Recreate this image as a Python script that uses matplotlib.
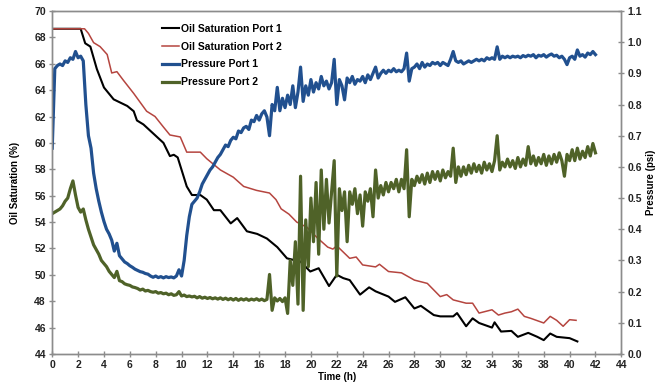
import numpy as np
import matplotlib
matplotlib.use("Agg")
import matplotlib.pyplot as plt
from matplotlib.ticker import FormatStrFormatter

plt.rcParams['font.family'] = ['Liberation Sans', 'DejaVu Sans']
plt.rcParams['font.weight'] = 'bold'

# oil saturation
t_os1 = [0, 2.2, 2.55, 2.95, 3.45, 4.0, 4.75, 5.8, 6.3, 6.55, 7.05, 8.6, 9.1, 9.4, 9.7,
         10.4, 10.8, 11.45, 11.95, 12.5, 13.0, 13.8, 14.3, 15.05, 15.85, 16.6, 17.4,
         18.15, 19.2, 19.95, 20.6, 21.4, 22.0, 22.5, 23.0, 23.8, 24.5, 25.0, 26.0, 26.5,
         27.3, 28.0, 28.5, 29.5, 30.0, 31.0, 31.3, 32.0, 32.5, 33.0, 34.0, 34.2, 34.7,
         35.5, 36.0, 36.8, 37.5, 38.0, 38.5, 39.0, 40.0, 40.6]
os1 = [68.65, 68.65, 67.55, 67.3, 65.6, 64.2, 63.3, 62.8, 62.4, 61.7, 61.4, 60.0, 59.0,
       59.1, 58.9, 56.7, 56.05, 56.05, 55.7, 54.9, 54.9, 53.9, 54.3, 53.3, 53.1, 52.75,
       52.1, 51.25, 51.0, 50.25, 50.5, 49.15, 50.0, 49.75, 49.6, 48.5, 49.05, 48.75,
       48.35, 47.95, 48.3, 47.45, 47.65, 46.95, 46.85, 46.85, 47.1, 46.1, 46.7, 46.35,
       46.0, 46.4, 45.7, 45.75, 45.3, 45.6, 45.3, 45.05, 45.55, 45.3, 45.2, 44.95]

t_os2 = [0, 2.5, 2.8, 3.2, 3.7, 4.25, 4.6, 5.0, 5.5, 6.3, 7.3, 7.95, 8.6, 9.1, 9.9, 10.4,
         11.45, 11.95, 13.0, 14.0, 14.8, 15.8, 16.8, 17.3, 17.7, 18.3, 18.9, 19.7, 20.5,
         21.3, 21.7, 22.0, 23.0, 23.5, 24.0, 25.0, 25.3, 26.0, 27.0, 28.0, 29.0, 30.0,
         30.5, 31.0, 32.0, 32.5, 33.0, 34.0, 34.5, 35.0, 35.5, 36.0, 36.5, 37.0, 38.0,
         38.5, 39.0, 39.5, 40.0, 40.5]
os2 = [68.65, 68.65, 68.3, 67.6, 67.3, 66.7, 65.3, 65.4, 64.75, 63.75, 62.4, 62.0, 61.2,
       60.6, 60.45, 59.3, 59.3, 58.8, 57.95, 57.4, 56.7, 56.4, 56.2, 55.7, 55.0, 54.6,
       54.0, 53.6, 52.8, 52.1, 51.95, 52.2, 51.25, 51.35, 50.75, 50.6, 50.8, 50.25,
       50.15, 49.6, 49.35, 48.35, 48.5, 48.1, 47.85, 47.85, 47.1, 47.35, 46.95, 47.1,
       47.2, 47.4, 46.85, 46.7, 46.35, 46.85, 46.55, 46.1, 46.6, 46.55]

# pressures sampled every 0.2 h from 0 to 42 h
t_p = np.round(np.arange(0, 42.0001, 0.2), 1)
p1 = [0.66, 0.915, 0.925, 0.93, 0.925, 0.94, 0.935, 0.95, 0.945, 0.97,
      0.95, 0.955, 0.94, 0.80, 0.70, 0.66, 0.58, 0.53, 0.49, 0.455,
      0.425, 0.40, 0.385, 0.365, 0.33, 0.355, 0.315, 0.305, 0.295, 0.29,
      0.283, 0.278, 0.272, 0.268, 0.264, 0.262, 0.258, 0.256, 0.25, 0.246,
      0.25, 0.245, 0.248, 0.244, 0.248, 0.245, 0.247, 0.244, 0.25, 0.27,
      0.25, 0.30, 0.38, 0.44, 0.48, 0.49, 0.50, 0.52, 0.545, 0.56,
      0.575, 0.59, 0.60, 0.615, 0.63, 0.64, 0.655, 0.67, 0.665, 0.685,
      0.695, 0.69, 0.715, 0.71, 0.725, 0.73, 0.72, 0.75, 0.745, 0.765,
      0.75, 0.77, 0.78, 0.76, 0.70, 0.80, 0.78, 0.855, 0.78, 0.82,
      0.79, 0.83, 0.80, 0.86, 0.79, 0.84, 0.92, 0.81, 0.86, 0.83,
      0.88, 0.84, 0.87, 0.85, 0.89, 0.86, 0.875, 0.85, 0.87, 0.945,
      0.80, 0.88, 0.86, 0.815, 0.885, 0.87, 0.89, 0.865, 0.88, 0.875,
      0.89, 0.87, 0.895, 0.88, 0.90, 0.92, 0.885, 0.90, 0.91, 0.90,
      0.91, 0.905, 0.915, 0.905, 0.91, 0.905, 0.915, 0.965, 0.875, 0.915,
      0.92, 0.93, 0.915, 0.935, 0.92, 0.93, 0.925, 0.935, 0.93, 0.935,
      0.925, 0.935, 0.93, 0.925, 0.945, 0.97, 0.94, 0.935, 0.94, 0.93,
      0.935, 0.94, 0.935, 0.94, 0.945, 0.94, 0.945, 0.94, 0.95, 0.945,
      0.95, 0.945, 0.985, 0.945, 0.955, 0.95, 0.955, 0.95, 0.955, 0.952,
      0.955, 0.95, 0.957, 0.953, 0.958, 0.955, 0.96, 0.95, 0.958, 0.955,
      0.96, 0.952, 0.958, 0.962, 0.955, 0.958, 0.95, 0.955, 0.945, 0.928,
      0.95, 0.955, 0.945, 0.975, 0.955, 0.96, 0.952, 0.965, 0.96, 0.97,
      0.96]
p2 = [0.45, 0.455, 0.46, 0.465, 0.475, 0.49, 0.50, 0.53, 0.555, 0.51,
      0.47, 0.455, 0.465, 0.43, 0.40, 0.375, 0.35, 0.335, 0.32, 0.30,
      0.29, 0.28, 0.265, 0.255, 0.245, 0.265, 0.235, 0.232, 0.225, 0.222,
      0.22, 0.215, 0.213, 0.21, 0.205, 0.208, 0.202, 0.204, 0.20, 0.198,
      0.20, 0.195, 0.197, 0.193, 0.195, 0.19, 0.193, 0.188, 0.19, 0.20,
      0.186, 0.189, 0.184, 0.186, 0.183, 0.185, 0.18, 0.184, 0.179, 0.182,
      0.178, 0.181, 0.177, 0.18, 0.176, 0.18, 0.175, 0.179, 0.174, 0.178,
      0.173, 0.178, 0.172, 0.177, 0.173, 0.177, 0.172, 0.176, 0.173, 0.177,
      0.172, 0.176, 0.171, 0.175, 0.255, 0.14, 0.18, 0.17, 0.178, 0.168,
      0.18, 0.13, 0.30, 0.22, 0.36, 0.16, 0.57, 0.14, 0.43, 0.28,
      0.50, 0.36, 0.55, 0.32, 0.59, 0.40, 0.56, 0.42, 0.52, 0.62,
      0.25, 0.53, 0.46, 0.52, 0.36, 0.52, 0.48, 0.53, 0.45, 0.51,
      0.41, 0.52, 0.49, 0.53, 0.44, 0.59, 0.50, 0.54, 0.51, 0.55,
      0.52, 0.55, 0.53, 0.56, 0.52, 0.56, 0.53, 0.655, 0.44, 0.56,
      0.54, 0.57, 0.55, 0.575, 0.545, 0.58, 0.55, 0.585, 0.56, 0.585,
      0.555, 0.59, 0.565, 0.585, 0.57, 0.66, 0.55, 0.60, 0.57, 0.60,
      0.575, 0.605, 0.58, 0.61, 0.585, 0.605, 0.58, 0.615, 0.59, 0.61,
      0.585, 0.62, 0.70, 0.59, 0.615, 0.60, 0.625, 0.60, 0.62, 0.595,
      0.63, 0.60, 0.625, 0.605, 0.665, 0.61, 0.635, 0.605, 0.63, 0.61,
      0.64, 0.605, 0.635, 0.61, 0.64, 0.615, 0.645, 0.62, 0.57, 0.64,
      0.62, 0.655, 0.62, 0.66, 0.625, 0.65, 0.63, 0.665, 0.635, 0.675,
      0.645]

fig = plt.figure(figsize=(6.61, 3.92), dpi=100)
ax = fig.add_axes([0.079, 0.097, 0.861, 0.875])
ax2 = ax.twinx()

l1, = ax.plot(t_os1, os1, color='black', lw=1.5, solid_joinstyle='round',
              label='Oil Saturation Port 1')
l2, = ax.plot(t_os2, os2, color='#b5453f', lw=1.1, solid_joinstyle='round',
              label='Oil Saturation Port 2')
l3, = ax2.plot(t_p, p1, color='#21508f', lw=2.3, solid_joinstyle='round',
               label='Pressure Port 1')
l4, = ax2.plot(t_p, p2, color='#4f6228', lw=2.3, solid_joinstyle='round',
               label='Pressure Port 2')

ax.set_xlim(0, 44)
ax.set_ylim(44, 70)
ax.set_xticks(range(0, 45, 2))
ax.set_yticks(range(44, 71, 2))
ax2.set_ylim(0, 1.1)
ax2.set_yticks(np.arange(0, 1.101, 0.1))
ax2.yaxis.set_major_formatter(FormatStrFormatter('%.1f'))

for a in (ax, ax2):
    for s in a.spines.values():
        s.set_color('#8c8c8c')
        s.set_linewidth(1.0)
    a.tick_params(direction='inout', length=5, width=1, color='#8c8c8c',
                  labelsize=7.5, labelcolor='#222222', pad=2)

ax.set_xlabel('Time (h)', fontsize=7, fontweight='bold', labelpad=1)
ax.set_ylabel('Oil Saturation (%)', fontsize=7, fontweight='bold', labelpad=10)
ax2.set_ylabel('Pressure (psi)', fontsize=7, fontweight='bold', rotation=90, labelpad=3)

ax2.legend(handles=[l1, l2, l3, l4], loc='upper left', bbox_to_anchor=(0.185, 0.975),
           frameon=False, fontsize=7.5, handlelength=1.7, handletextpad=0.2,
           labelspacing=0.75, borderaxespad=0)

fig.savefig('out.png', dpi=100)
